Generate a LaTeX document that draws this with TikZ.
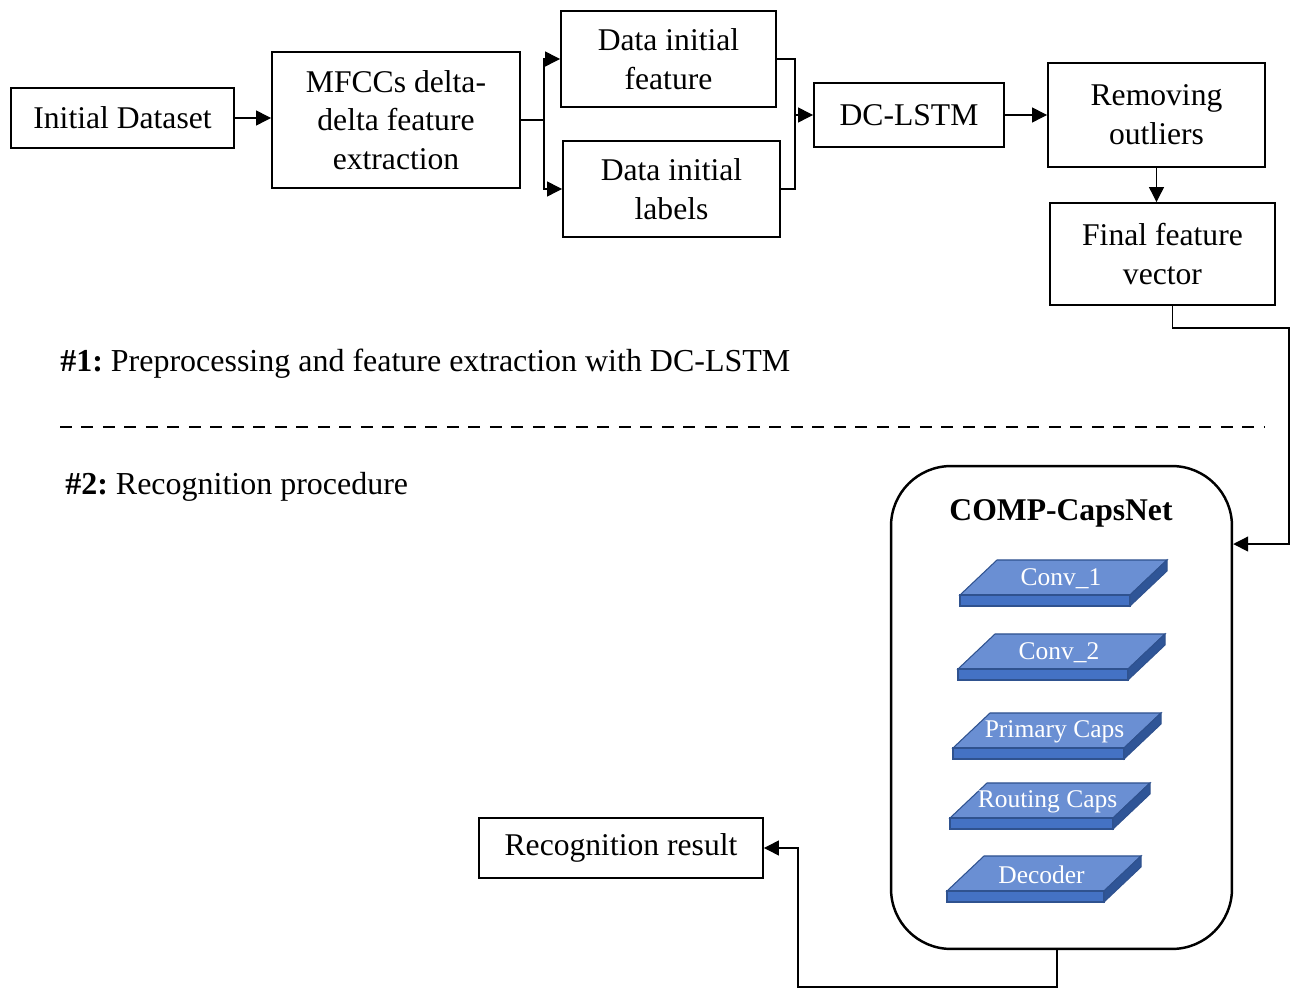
\documentclass[tikz,border=0pt]{standalone}
\usepackage{fontspec}
\setmainfont{Liberation Serif}
\usetikzlibrary{arrows.meta,positioning,calc}
\definecolor{cPlateTop}{HTML}{6A8FD3}
\definecolor{cPlateFront}{HTML}{4472C4}
\definecolor{cPlateSide}{HTML}{2F5597}
\definecolor{cPlateEdge}{HTML}{2F528F}

\begin{document}
\begin{tikzpicture}[
    x=0.02cm, y=-0.02cm,
    font=\fontsize{18}{22}\selectfont,
    box/.style={draw, line width=1.1pt, align=center, inner sep=0pt},
    head/.style={anchor=base west, inner sep=0pt, font=\fontsize{18.2}{22}\selectfont},
    link/.style={line width=0.7pt},
    arr/.style={-{Triangle[length=3mm,width=3mm]}, line width=0.7pt},
    platetext/.style={text=white, font=\fontsize{14.5}{16}\selectfont, inner sep=0pt},
  ]
  \useasboundingbox (0,0) rectangle (1296,989);

  % --- stage 1: feature extraction chain ---
  \node[box, minimum width=4.46cm, minimum height=1.2cm] (init) at (122.5,118) {Initial Dataset};
  \node[box, minimum width=4.96cm, minimum height=2.72cm] (mfcc) at (396,120)
    {MFCCs delta-\\delta feature\\extraction};
  \node[box, minimum width=4.3cm, minimum height=1.92cm] (feat) at (668.5,59) {Data initial\\feature};
  \node[box, minimum width=4.34cm, minimum height=1.92cm] (labl) at (671.5,189) {Data initial\\labels};
  \node[box, minimum width=3.8cm, minimum height=1.28cm] (dclstm) at (909,115) {DC-LSTM};
  \node[box, minimum width=4.34cm, minimum height=2.08cm] (outl) at (1156.5,115) {Removing\\outliers};
  \node[box, minimum width=4.5cm, minimum height=2.04cm] (final) at (1162.5,254) {Final feature\\vector};

  % --- section headings and separator ---
  \node[head] (head1) at (60,372) {\textbf{\#1:}\hspace{0.25em}Preprocessing and feature extraction with DC-LSTM};
  \node[head] (head2) at (65,495) {\textbf{\#2:}\hspace{0.25em}Recognition procedure};
  \draw[line width=1.4pt, dash pattern=on 0.24cm off 0.19cm] (60,427) -- (1265,427);

  % --- stage 2: capsule network ---
  \node[draw, line width=1.4pt, rounded corners=1.2cm, minimum width=6.82cm, minimum height=9.66cm]
    (caps) at (1061.5,707.5) {};
  \node[font=\bfseries\fontsize{18}{22}\selectfont] (capstitle) at (1061,513) {COMP-CapsNet};
  \foreach \px/\py/\pw/\lbl [count=\i] in {960/595/170/Conv\_1, 958/669/170/Conv\_2,
      953/748/171/Primary Caps, 950/818/163/Routing Caps, 947/891/157/Decoder}{
    \filldraw[fill=cPlateTop, draw=cPlateEdge, line width=0.6pt]
      (\px,\py) -- ++(\pw,0) -- ++(37,-35) -- ++(-\pw,0) -- cycle;
    \filldraw[fill=cPlateFront, draw=cPlateEdge, line width=0.6pt] (\px,\py) rectangle ++(\pw,11);
    \filldraw[fill=cPlateSide, draw=cPlateEdge, line width=0.6pt]
      (\px+\pw,\py) -- ++(37,-35) -- ++(0,11) -- ++(-37,35) -- cycle;
    \node[platetext] (plate\i) at (\px+\pw/2+16,\py-16) {\lbl};
  }
  \node[box, minimum width=5.68cm, minimum height=1.2cm] (result) at (621,848) {Recognition result};

  % --- connectors ---
  \coordinate (fork) at ([xshift=0.46cm]mfcc.east);
  \coordinate (join) at ([xshift=-0.36cm]dclstm.west);
  \coordinate (turn) at (1289,328);
  \coordinate (low) at (798,987);
  \draw[arr] (init.east) -- (init.east -| mfcc.west);
  \draw[link] (mfcc.east) -- (fork);
  \draw[arr] (fork) |- (feat.west);
  \draw[arr] (fork) |- (labl.west);
  \draw[link] (feat.east) -| (join);
  \draw[link] (labl.east) -| (join);
  \draw[arr] (join) -- (dclstm.west);
  \draw[arr] (dclstm.east) -- (dclstm.east -| outl.west);
  \draw[arr] (outl.south) -- (outl.south |- final.north);
  \draw[arr] ([xshift=0.2cm]final.south) |- (turn) |- ([yshift=3.27cm]caps.east);
  \draw[arr] ([xshift=-0.09cm]caps.south) |- (low) |- (result.east);
\end{tikzpicture}
\end{document}
